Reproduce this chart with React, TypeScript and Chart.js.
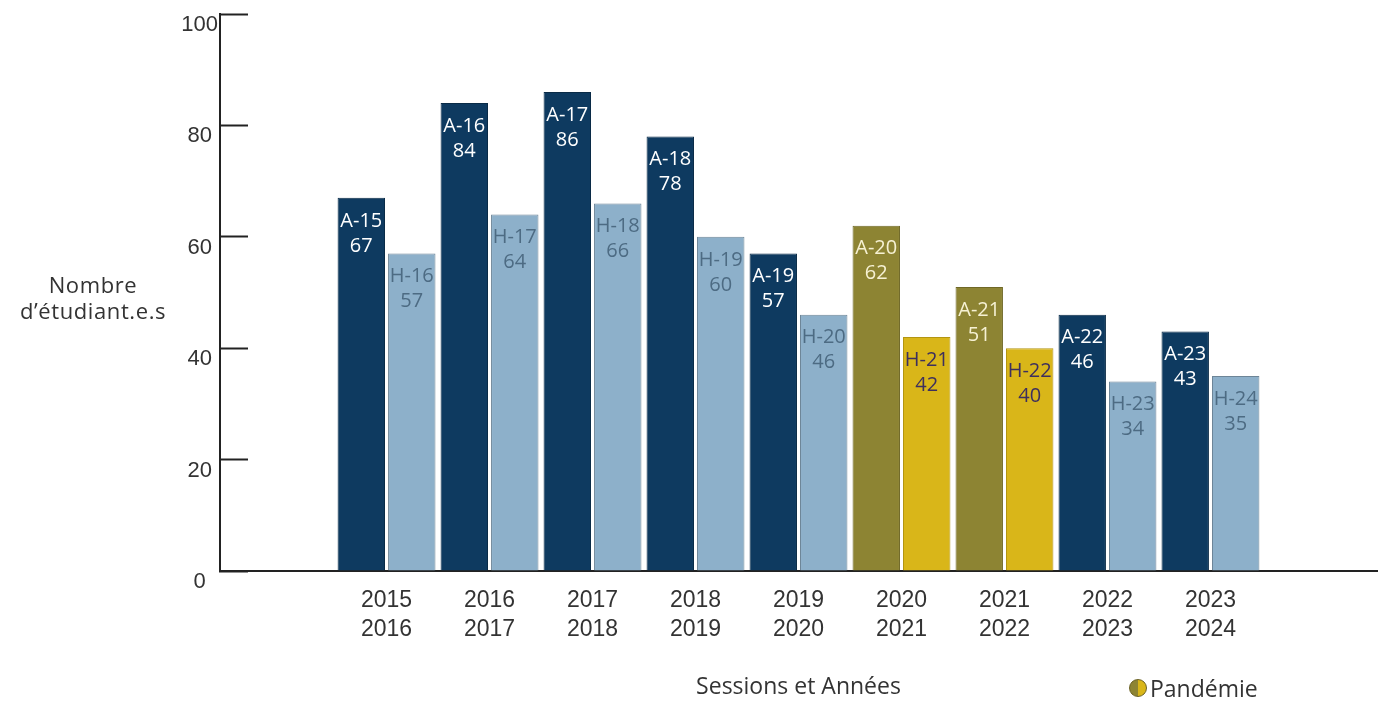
import React, { useEffect, useRef } from 'react';
import { Chart, registerables } from 'chart.js';

Chart.register(...registerables);

// ---- data ----
const categories: string[][] = [
  ['2015', '2016'],
  ['2016', '2017'],
  ['2017', '2018'],
  ['2018', '2019'],
  ['2019', '2020'],
  ['2020', '2021'],
  ['2021', '2022'],
  ['2022', '2023'],
  ['2023', '2024'],
];
const fallSessions = ['A-15', 'A-16', 'A-17', 'A-18', 'A-19', 'A-20', 'A-21', 'A-22', 'A-23'];
const fallValues = [67, 84, 86, 78, 57, 62, 51, 46, 43];
const winterSessions = ['H-16', 'H-17', 'H-18', 'H-19', 'H-20', 'H-21', 'H-22', 'H-23', 'H-24'];
const winterValues = [57, 64, 66, 60, 46, 42, 40, 34, 35];
const pandemicIndexes = [5, 6];
const yMin = 0;
const yMax = 100;
const yStep = 20;
const yTitleLines = ['Nombre', 'd\u2019étudiant.e.s'];
const xTitle = 'Sessions et Années';
const legendLabel = 'Pandémie';

// ---- styles ----
const NAVY = '#0e3a60';
const NAVY_BORDER = '#0a2b47';
const LIGHT = '#8db0ca';
const LIGHT_BORDER = '#6d8597';
const OLIVE = '#8d8433';
const OLIVE_BORDER = '#6f6826';
const YELLOW = '#d9b619';
const YELLOW_BORDER = '#b39511';
const TEXT_NAVY = '#ffffff';
const TEXT_LIGHT = '#4d6b83';
const TEXT_OLIVE = '#f6f1d3';
const TEXT_YELLOW = '#3d2f5e';
const AXIS = '#222222';
const LABEL_FONT = '"Open Sans", "Noto Sans", sans-serif';
const TICK_FONT = '"Liberation Sans", Arial, sans-serif';

const isPandemic = (i: number) => pandemicIndexes.includes(i);

const barLabelPlugin = {
  id: 'barLabels',
  afterDatasetsDraw(chart: any) {
    const ctx = chart.ctx as CanvasRenderingContext2D;
    const sets = [
      { names: fallSessions, values: fallValues, fall: true },
      { names: winterSessions, values: winterValues, fall: false },
    ];
    sets.forEach((s, di) => {
      const meta = chart.getDatasetMeta(di);
      meta.data.forEach((el: any, i: number) => {
        const { x, y } = el.getProps(['x', 'y'], true);
        let color: string;
        if (isPandemic(i)) color = s.fall ? TEXT_OLIVE : TEXT_YELLOW;
        else color = s.fall ? TEXT_NAVY : TEXT_LIGHT;
        ctx.save();
        ctx.font = `20px ${LABEL_FONT}`;
        ctx.textAlign = 'center';
        ctx.textBaseline = 'middle';
        ctx.fillStyle = color;
        ctx.fillText(s.names[i], x, y + 23);
        ctx.fillText(String(s.values[i]), x, y + 48);
        ctx.restore();
      });
    });
  },
};

export default function App() {
  const canvasRef = useRef<HTMLCanvasElement | null>(null);

  useEffect(() => {
    document.body.style.margin = '0';
    const canvas = canvasRef.current;
    if (!canvas) return;

    const fallData = fallValues.map((v, i) => ({ x: i, y: v }));
    const winterData = winterValues.map((v, i) => ({ x: i, y: v }));

    const chart = new Chart(canvas, {
      type: 'bar',
      data: {
        datasets: [
          {
            label: 'Automne',
            data: fallData as any,
            backgroundColor: fallValues.map((_, i) => (isPandemic(i) ? OLIVE : NAVY)),
            borderColor: fallValues.map((_, i) => (isPandemic(i) ? OLIVE_BORDER : NAVY_BORDER)),
            borderWidth: 1,
            categoryPercentage: 0.98,
            barPercentage: 0.94,
          },
          {
            label: 'Hiver',
            data: winterData as any,
            backgroundColor: winterValues.map((_, i) => (isPandemic(i) ? YELLOW : LIGHT)),
            borderColor: winterValues.map((_, i) => (isPandemic(i) ? YELLOW_BORDER : LIGHT_BORDER)),
            borderWidth: 1,
            categoryPercentage: 0.98,
            barPercentage: 0.94,
          },
        ],
      },
      options: {
        responsive: false,
        animation: false,
        layout: { padding: { left: 0, right: 5, top: 14, bottom: 0 } },
        plugins: {
          legend: { display: false },
          tooltip: { enabled: false },
        },
        scales: {
          x: {
            type: 'linear',
            min: -1.617,
            max: 9.617,
            offset: false,
            grid: { display: false, drawTicks: false },
            border: { display: true, color: AXIS, width: 2 },
            afterBuildTicks: (scale: any) => {
              scale.ticks = categories.map((_, i) => ({ value: i }));
            },
            afterFit: (scale: any) => {
              scale.height = 130;
              scale.paddingLeft = 0;
              scale.paddingRight = 0;
            },
            ticks: {
              autoSkip: false,
              maxRotation: 0,
              minRotation: 0,
              padding: 15,
              color: '#333333',
              font: { family: TICK_FONT, size: 23, lineHeight: 1.27 },
              callback: (value: any) => categories[Number(value)] ?? '',
            },
            title: {
              display: true,
              text: xTitle,
              color: '#333333',
              font: { family: LABEL_FONT, size: 23, lineHeight: 1.2 },
              padding: { top: 0, bottom: 0 },
            },
          },
          y: {
            type: 'linear',
            min: yMin,
            max: yMax,
            afterFit: (scale: any) => {
              scale.width = 220;
              scale.paddingTop = 0;
              scale.paddingBottom = 0;
            },
            grid: {
              display: true,
              drawOnChartArea: false,
              drawTicks: true,
              tickLength: -28,
              tickColor: AXIS,
              tickWidth: 2,
              color: AXIS,
            },
            border: { display: true, color: AXIS, width: 2 },
            ticks: {
              stepSize: yStep,
              crossAlign: 'center',
              padding: 30,
              labelOffset: 11,
              color: '#333333',
              font: { family: TICK_FONT, size: 22 },
            },
          },
        },
      } as any,
      plugins: [barLabelPlugin],
    });

    return () => {
      chart.destroy();
    };
  }, []);

  return (
    <div style={{ position: 'relative', width: 1382, height: 701, background: '#ffffff' }}>
      <canvas ref={canvasRef} width={1382} height={701} style={{ display: 'block', width: 1382, height: 701 }} />
      <div
        style={{
          position: 'absolute',
          left: 0,
          top: 271,
          width: 186,
          textAlign: 'center',
          fontFamily: LABEL_FONT,
          fontSize: 22,
          letterSpacing: '0.6px',
          lineHeight: '26px',
          color: '#333333',
        }}
      >
        {yTitleLines.map((l) => (
          <div key={l}>{l}</div>
        ))}
      </div>
      <div
        style={{
          position: 'absolute',
          left: 1129,
          top: 673,
          height: 30,
          display: 'flex',
          alignItems: 'center',
          fontFamily: LABEL_FONT,
          fontSize: 23,
          color: '#333333',
        }}
      >
        <span
          style={{
            display: 'inline-block',
            width: 18,
            height: 18,
            borderRadius: '50%',
            background: `linear-gradient(90deg, ${OLIVE} 50%, ${YELLOW} 50%)`,
            border: '1px solid #6a6020',
            marginRight: 3,
            boxSizing: 'border-box',
          }}
        />
        <span>{legendLabel}</span>
      </div>
    </div>
  );
}
